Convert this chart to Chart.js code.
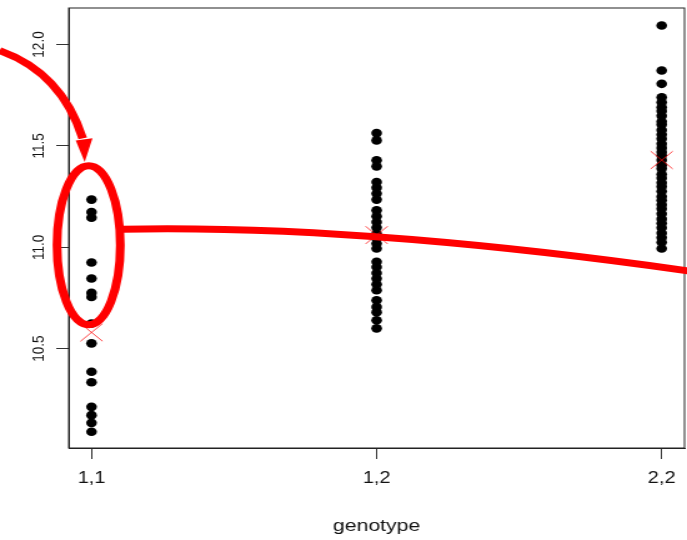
<!DOCTYPE html>
<html lang="en">
<head>
  <meta charset="UTF-8">
  <title>genotype</title>
  <script src="https://cdn.jsdelivr.net/npm/chart.js"></script>
  <style>
    html, body {
      margin: 0;
      padding: 0;
      background: white;
      overflow: hidden;
    }
    #wrap {
      width: 550px;
      height: 540px;
      transform: scaleX(1.2491);
      transform-origin: 0 0;
    }
  </style>
</head>
<body>
  <div id="wrap"><canvas id="grafico" width="550" height="540"></canvas></div>

  <script>
    // categories on the x axis
    const genotipos = ['1,1', '1,2', '2,2'];
    const yTicks = [10.5, 11.0, 11.5, 12.0];

    // values
    const g11 = [11.235, 11.174, 11.146, 10.925, 10.846, 10.775, 10.755, 10.624,
      10.526, 10.386, 10.334, 10.213, 10.172, 10.134, 10.09];
    const g12 = [11.563, 11.527, 11.429, 11.399, 11.322, 11.294, 11.265, 11.235,
      11.182, 11.153, 11.125, 11.097, 11.067, 11.043, 11.018, 10.994, 10.928,
      10.903, 10.873, 10.846, 10.818, 10.788, 10.739, 10.706, 10.68, 10.64, 10.6];
    const g22 = [12.094, 11.872, 11.806, 11.74, 11.715, 11.69, 11.672, 11.648,
      11.62, 11.605, 11.578, 11.556, 11.535, 11.51, 11.49, 11.47, 11.452, 11.43,
      11.405, 11.388, 11.36, 11.342, 11.318, 11.3, 11.276, 11.25, 11.232, 11.21,
      11.19, 11.165, 11.14, 11.118, 11.096, 11.07, 11.048, 11.025, 10.994];
    const medias = [10.58, 11.06, 11.43];

    const grupos = [g11, g12, g22];
    const pontos = [];
    grupos.forEach((g, i) => g.forEach(v => pontos.push({ x: i + 1, y: v })));
    const pontosMedia = medias.map((v, i) => ({ x: i + 1, y: v }));

    const vermelho = '#ff0000';

    // red hand-drawn notes, in data units
    const notas = {
      seta: [[0.678, 11.970], [0.895, 11.862], [0.969, 11.537]],
      ponta: [[0.9446, 11.527], [1.0034, 11.538], [0.976, 11.420]],
      elipse: { x: 0.990, y: 11.01, rx: 0.111, ry: 0.392 },
      curva: [[1.106, 11.089], [1.942, 11.113], [3.101, 10.882]]
    };

    const caixa = {
      id: 'caixa',
      afterDraw(chart) {
        const { ctx, chartArea: a, scales: { x, y } } = chart;
        ctx.save();
        ctx.strokeStyle = '#222';
        ctx.lineWidth = 1;
        ctx.strokeRect(a.left, a.top, a.right - a.left, a.bottom - a.top);

        const px = p => [x.getPixelForValue(p[0]), y.getPixelForValue(p[1])];
        ctx.strokeStyle = vermelho;
        ctx.fillStyle = vermelho;
        ctx.lineWidth = 7;
        ctx.lineCap = 'butt';

        // arrow
        let [p0, p1, p2] = notas.seta.map(px);
        ctx.beginPath();
        ctx.moveTo(p0[0], p0[1]);
        ctx.quadraticCurveTo(p1[0], p1[1], p2[0], p2[1]);
        ctx.stroke();
        const t = notas.ponta.map(px);
        ctx.beginPath();
        ctx.moveTo(t[0][0], t[0][1]);
        ctx.lineTo(t[1][0], t[1][1]);
        ctx.lineTo(t[2][0], t[2][1]);
        ctx.closePath();
        ctx.fill();

        // ellipse around 1,1
        const e = notas.elipse;
        const cx = x.getPixelForValue(e.x), cy = y.getPixelForValue(e.y);
        const rx = Math.abs(x.getPixelForValue(e.x + e.rx) - cx);
        const ry = Math.abs(y.getPixelForValue(e.y + e.ry) - cy);
        ctx.beginPath();
        ctx.ellipse(cx, cy, rx, ry, 0, 0, Math.PI * 2);
        ctx.stroke();

        // long curve
        [p0, p1, p2] = notas.curva.map(px);
        ctx.beginPath();
        ctx.moveTo(p0[0], p0[1]);
        ctx.quadraticCurveTo(p1[0], p1[1], p2[0], p2[1]);
        ctx.stroke();
        ctx.restore();
      }
    };

    const ctx = document.getElementById('grafico').getContext('2d');
    new Chart(ctx, {
      type: 'scatter',
      data: {
        datasets: [{
          data: pontos,
          backgroundColor: '#000',
          borderWidth: 0,
          pointRadius: 4.3,
          order: 2
        }, {
          data: pontosMedia,
          pointStyle: 'crossRot',
          pointRadius: 12.5,
          borderColor: 'rgba(255,0,0,0.75)',
          borderWidth: 1,
          order: 1
        }]
      },
      options: {
        responsive: false,
        animation: false,
        devicePixelRatio: 1,
        layout: { autoPadding: false, padding: { left: 0, right: 2, top: 8, bottom: 0 } },
        plugins: {
          legend: { display: false },
          tooltip: { enabled: false }
        },
        scales: {
          x: {
            type: 'linear',
            min: 0.92,
            max: 3.08,
            afterBuildTicks: s => { s.ticks = genotipos.map((g, i) => ({ value: i + 1 })); },
            afterFit: s => {
              s.height = 92;
              s.paddingLeft = 0;
              s.paddingRight = 0;
            },
            grid: { drawOnChartArea: false, tickLength: 11, color: '#333' },
            border: { color: '#222' },
            ticks: {
              padding: 10,
              color: '#111',
              font: { family: 'Liberation Sans', size: 16 },
              callback: v => genotipos[v - 1]
            },
            title: {
              display: true,
              text: 'genotype',
              color: '#111',
              font: { family: 'Liberation Sans', size: 17 },
              padding: { top: 0, bottom: 3 }
            }
          },
          y: {
            min: 10.01,
            max: 12.18,
            afterBuildTicks: s => { s.ticks = yTicks.map(v => ({ value: v })); },
            afterFit: s => {
              s.width = 55;
              s.paddingTop = 0;
              s.paddingBottom = 0;
            },
            grid: { drawOnChartArea: false, tickLength: 10, color: '#333' },
            border: { color: '#222' },
            ticks: {
              minRotation: 90,
              maxRotation: 90,
              crossAlign: 'center',
              padding: 1,
              color: '#111',
              font: { family: 'Liberation Sans', size: 13.5 },
              callback: v => v.toFixed(1)
            }
          }
        }
      },
      plugins: [caixa]
    });
  </script>
</body>
</html>
